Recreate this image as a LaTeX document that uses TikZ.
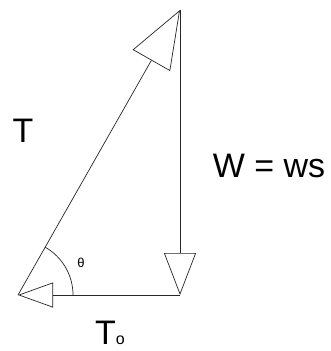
\documentclass[tikz,border=0pt]{standalone}
\usepackage{fontspec}
\setmainfont{Liberation Sans}
\usetikzlibrary{arrows.meta}
\begin{document}
\begin{tikzpicture}[x=1pt,y=-1pt,
  force/.style={draw=black!85,line width=0.7pt},
  lbl/.style={inner sep=0pt,font=\fontsize{34}{34}\selectfont}]
\useasboundingbox[fill=white] (0,0) rectangle (330,351);
\coordinate (A) at (18,295);
\coordinate (B) at (180,295);
\coordinate (C) at (180,10);
\draw[force,-{Triangle[open,length=42pt,width=32pt]}] (C) -- (B);
\draw[force,-{Triangle[open,length=35pt,width=25pt]}] (B) -- (A);
\draw[force,-{Triangle[open,length=58pt,width=43pt]}] (A) -- (C);
\draw[force] (A) ++(55,0) arc[start angle=0,end angle=-60.4,radius=55];
\node[lbl] (tlab) at (23,131) {T};
\node[lbl] (wlab) at (269,166) {W = ws};
\node[lbl,anchor=base west] (tolab) at (95,344) {T{\fontsize{16}{16}\selectfont o}};
\node[inner sep=0pt,font=\fontsize{13}{13}\selectfont] (theta) at (81,263) {θ};
\end{tikzpicture}
\end{document}
